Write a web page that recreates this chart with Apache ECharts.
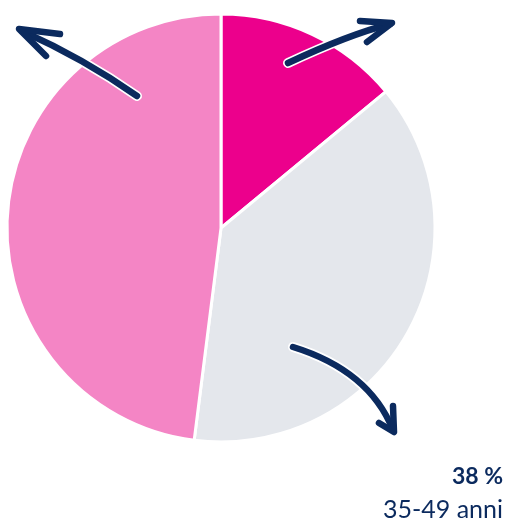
<!DOCTYPE html>
<html>
<head>
<meta charset="utf-8">
<script src="https://cdn.jsdelivr.net/npm/echarts@6/dist/echarts.min.js"></script>
<style>
  html, body { margin: 0; padding: 0; background: #fff; }
  #chart { width: 508px; height: 519px; }
</style>
</head>
<body>
<div id="chart"></div>
<script>
// slice data, clockwise from 12 o'clock
const categories = ['fino a 34 anni', '35-49 anni', '50 anni e oltre'];
const shares = [14, 38, 48];
const sliceColors = ['#EC008C', '#E4E7EC', '#F485C5'];

// only the middle slice is labelled in the reference
const labelIndex = 1;

const navy = '#0B2A5E';

const chart = echarts.init(document.getElementById('chart'));

// an arrow = curved shaft + head, drawn twice (white halo then navy)
function arrow(shaft, head) {
  const out = [];
  [[10, '#ffffff'], [6.5, navy]].forEach(([w, c]) => {
    out.push({
      type: 'bezierCurve', shape: shaft, silent: true, z: 100,
      style: { stroke: c, lineWidth: w, fill: null, lineCap: 'round' }
    });
    out.push({
      type: 'polyline', shape: { points: head }, silent: true, z: 100,
      style: { stroke: c, lineWidth: w, fill: null, lineCap: 'round', lineJoin: 'round' }
    });
  });
  return out;
}

const option = {
  animation: false,
  series: [{
    type: 'pie',
    center: [221, 228],
    radius: 214,
    startAngle: 90,
    clockwise: true,
    z: 1,
    label: { show: false },
    labelLine: { show: false },
    emphasis: { disabled: true },
    itemStyle: { borderColor: '#ffffff', borderWidth: 3 },
    data: categories.map((name, i) => ({
      name, value: shares[i], itemStyle: { color: sliceColors[i] }
    }))
  }],
  graphic: [
    ...arrow({ x1: 137, y1: 96, x2: 22, y2: 31, cpx1: 100, cpy1: 70, cpx2: 60, cpy2: 48 },
             [[60, 34], [19, 29], [46, 56]]),
    ...arrow({ x1: 288, y1: 63, x2: 390, y2: 24, cpx1: 320, cpy1: 48, cpx2: 355, cpy2: 33 },
             [[360, 21], [392, 23], [367, 42]]),
    ...arrow({ x1: 293, y1: 347, x2: 393, y2: 430, cpx1: 335, cpy1: 360, cpx2: 375, cpy2: 385 },
             [[379, 423], [394, 432], [393, 406]]),
    {
      type: 'text', right: 5, top: 465, z: 100,
      style: {
        text: shares[labelIndex] + ' %', fill: navy,
        font: 'bold 23px Lato, sans-serif', textAlign: 'right'
      }
    },
    {
      type: 'text', right: 5, top: 497, z: 100,
      style: {
        text: categories[labelIndex], fill: navy,
        font: '25px Lato, sans-serif', textAlign: 'right'
      }
    }
  ]
};

chart.setOption(option);
</script>
</body>
</html>
